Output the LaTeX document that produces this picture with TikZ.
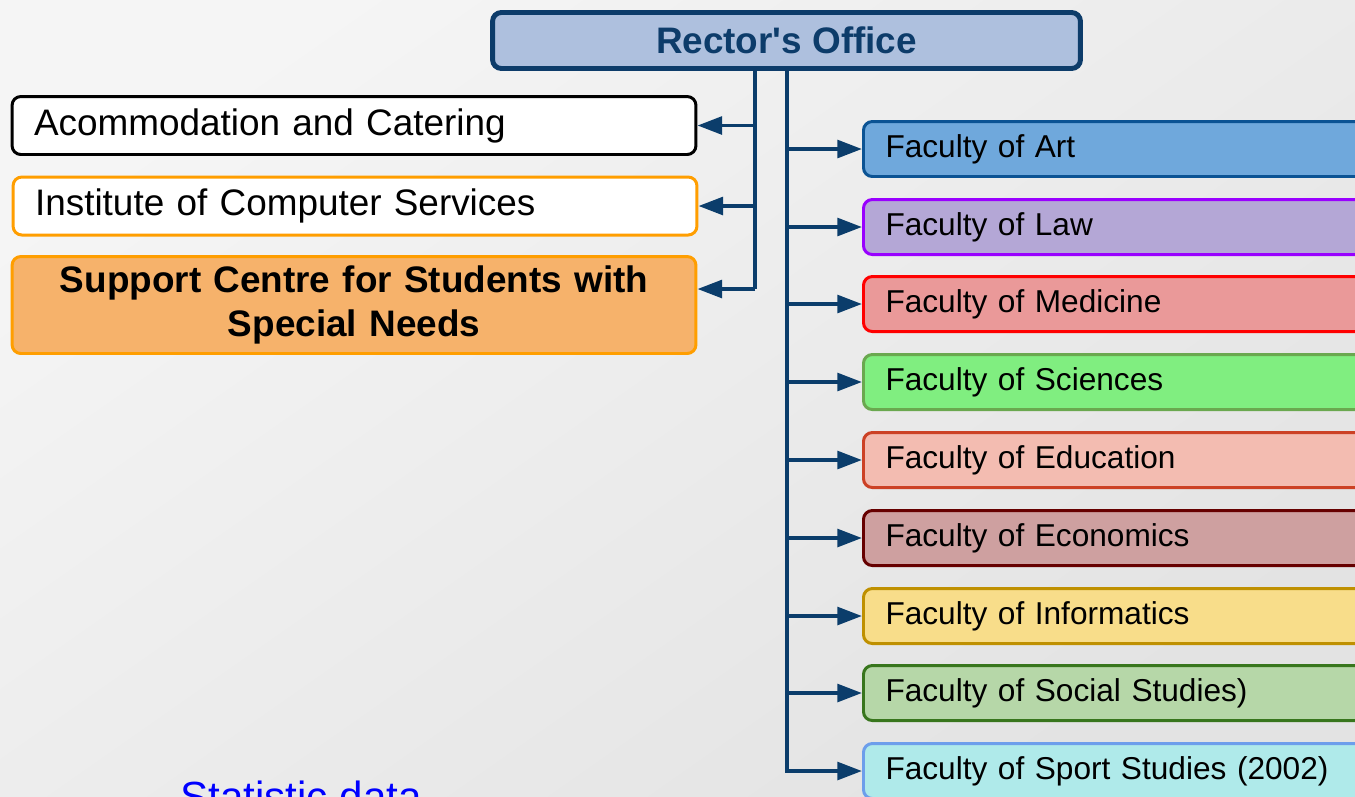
\documentclass[tikz,border=0pt]{standalone}
\usepackage{fontspec}
\setmainfont{Liberation Sans}
\usetikzlibrary{arrows.meta}

\definecolor{rectfill}{HTML}{AEC0DE}
\definecolor{rectline}{HTML}{0D3C6A}
\definecolor{linkcol}{HTML}{0B3D6B}
\definecolor{orangeline}{HTML}{FF9E00}
\definecolor{orangefill}{HTML}{F6B26B}
\definecolor{artfill}{HTML}{6FA8DC}
\definecolor{artline}{HTML}{0B5394}
\definecolor{lawfill}{HTML}{B4A7D6}
\definecolor{lawline}{HTML}{9900FF}
\definecolor{medfill}{HTML}{EA9999}
\definecolor{medline}{HTML}{FF0000}
\definecolor{scifill}{HTML}{80EE80}
\definecolor{sciline}{HTML}{6AA84F}
\definecolor{edufill}{HTML}{F3BCB1}
\definecolor{eduline}{HTML}{CC4125}
\definecolor{ecofill}{HTML}{CEA0A0}
\definecolor{ecoline}{HTML}{660000}
\definecolor{inffill}{HTML}{F8DD8A}
\definecolor{infline}{HTML}{BF9000}
\definecolor{socfill}{HTML}{B6D7A8}
\definecolor{socline}{HTML}{38761D}
\definecolor{spofill}{HTML}{AFEAEA}
\definecolor{spoline}{HTML}{6D9EEB}

\begin{document}
\begin{tikzpicture}[x=0.02cm, y=-0.02cm,
    office/.style={draw=rectline, fill=rectfill, line width=2.8pt, rounded corners=5pt,
      minimum width=11.76cm, minimum height=1.12cm, text=rectline,
      font=\fontsize{21}{25}\selectfont\bfseries},
    unitbox/.style={line width=1.7pt, rounded corners=5pt, minimum height=1.16cm,
      text width=12.8cm, inner xsep=0.44cm, align=left, text=black,
      font=\fontsize{21}{25}\selectfont},
    facbox/.style={line width=1.7pt, rounded corners=5pt, minimum height=1.1cm,
      text width=10.3cm, inner xsep=0.44cm, align=left, anchor=west, text=black,
      font=\fontsize{18}{22}\selectfont},
    link/.style={draw=linkcol, line width=2.2pt},
    arr/.style={link, -{Triangle[length=14pt,width=10pt]}}]
  % background
  \shade[top color=white!96!black, bottom color=white!89!black, shading angle=35]
    (0,0) rectangle (1355,796);
  \clip (0,0) rectangle (1355,796);

  \node[office] (rector) at (786.5,40.5) {Rector\textquotesingle s Office};

  \node[unitbox, draw=black, fill=white] (acc) at (354,125.5) {Acommodation and Catering};
  \node[unitbox, draw=orangeline, fill=white] (ics) at (355,206) {Institute of Computer Services};
  \node[unitbox, draw=orangeline, fill=orangefill, minimum height=1.94cm, align=center,
    font=\fontsize{21}{25}\selectfont\bfseries] (scsn) at (354,305)
    {Support Centre for Students with\\Special Needs};

  \node[facbox, draw=artline, fill=artfill] (art) at (862,149) {Faculty of Art};
  \node[facbox, draw=lawline, fill=lawfill] (law) at (862,227) {Faculty of Law};
  \node[facbox, draw=medline, fill=medfill] (med) at (862,304) {Faculty of Medicine};
  \node[facbox, draw=sciline, fill=scifill] (sci) at (862,382) {Faculty of Sciences};
  \node[facbox, draw=eduline, fill=edufill] (edu) at (862,460) {Faculty of Education};
  \node[facbox, draw=ecoline, fill=ecofill] (eco) at (862,538) {Faculty of Economics};
  \node[facbox, draw=infline, fill=inffill] (inf) at (862,616) {Faculty of Informatics};
  \node[facbox, draw=socline, fill=socfill] (soc) at (862,693) {Faculty of Social Studies)};
  \node[facbox, draw=spoline, fill=spofill] (spo) at (862,771) {Faculty of Sport Studies (2002)};

  \node[anchor=base west, inner sep=0pt, text=blue, font=\fontsize{24}{28}\selectfont]
    (stat) at (180,811) {Statistic data};

  % links to the left
  \coordinate (ltop) at (755,71);
  \coordinate (lbot) at (755,289);
  \draw[link] (ltop) -- (lbot);
  \draw[arr] (ltop |- acc.east) -- (acc.east);
  \draw[arr] (ltop |- ics.east) -- (ics.east);
  \draw[arr] (lbot) -- (lbot -| scsn.east);

  % links to the faculties
  \coordinate (rtop) at (787,71);
  \draw[arr] (rtop) |- (spo.west);
  \draw[arr] (rtop |- art.west) -- (art.west);
  \draw[arr] (rtop |- law.west) -- (law.west);
  \draw[arr] (rtop |- med.west) -- (med.west);
  \draw[arr] (rtop |- sci.west) -- (sci.west);
  \draw[arr] (rtop |- edu.west) -- (edu.west);
  \draw[arr] (rtop |- eco.west) -- (eco.west);
  \draw[arr] (rtop |- inf.west) -- (inf.west);
  \draw[arr] (rtop |- soc.west) -- (soc.west);
\end{tikzpicture}
\end{document}
